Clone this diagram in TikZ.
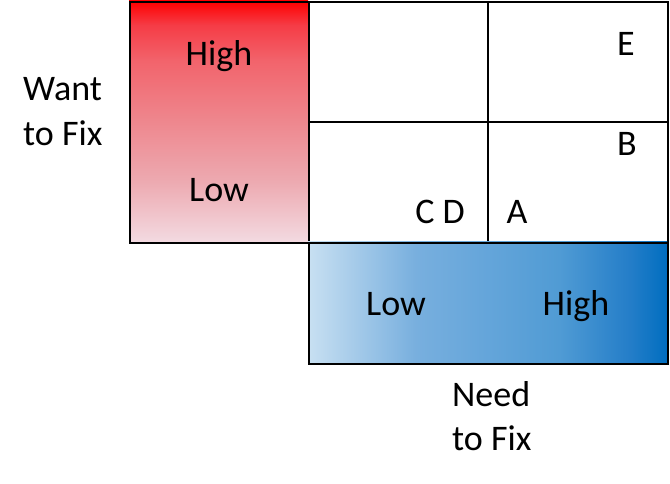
\documentclass[tikz,border=0pt]{standalone}
\usepackage{fontspec}
\setmainfont{Carlito}
\definecolor{rA}{RGB}{255,0,0}
\definecolor{rB}{RGB}{245,60,70}
\definecolor{rC}{RGB}{242,100,108}
\definecolor{rD}{RGB}{238,135,142}
\definecolor{rE}{RGB}{237,170,177}
\definecolor{rF}{RGB}{243,218,225}
\definecolor{bA}{RGB}{200,224,242}
\definecolor{bB}{RGB}{120,175,222}
\definecolor{bC}{RGB}{100,165,218}
\definecolor{bD}{RGB}{80,155,212}
\definecolor{bE}{RGB}{35,125,200}
\definecolor{bF}{RGB}{0,110,192}
\pgfdeclareverticalshading{redgrad}{100bp}{color(0bp)=(rF); color(25bp)=(rF); color(37.5bp)=(rE); color(50bp)=(rD); color(62.5bp)=(rC); color(70bp)=(rB); color(75bp)=(rA); color(100bp)=(rA)}
\pgfdeclarehorizontalshading{bluegrad}{100bp}{color(0bp)=(bA); color(25bp)=(bA); color(40bp)=(bB); color(50bp)=(bC); color(60bp)=(bD); color(70bp)=(bE); color(75bp)=(bF); color(100bp)=(bF)}
\begin{document}
\begin{tikzpicture}[x=1pt,y=-1pt,
  lbl/.style={font=\fontsize{36}{44}\selectfont, inner sep=0pt, anchor=base},
  box/.style={draw=black, line width=2pt}]
\useasboundingbox (0,0) rectangle (670,484);
% red box
\path[shading=redgrad] (129,1) rectangle (308,242);
\node[box, minimum width=179pt, minimum height=241pt, inner sep=0pt, anchor=north west] (red) at (129,1) {};
% grid
\node[box, minimum width=359pt, minimum height=241pt, inner sep=0pt, anchor=north west] (grid) at (308,1) {};
\coordinate (vt) at (488,1);
\coordinate (vb) at (488,242);
\coordinate (hl) at (308,122);
\coordinate (hr) at (667,122);
\draw[line width=2pt] (vt) -- (vb);
\draw[line width=2pt] (hl) -- (hr);
% blue box
\path[shading=bluegrad] (308,242) rectangle (667,363);
\node[box, minimum width=359pt, minimum height=121pt, inner sep=0pt, anchor=north west] (blue) at (308,242) {};
% labels
\node[lbl] (rh) at (219,66) {High};
\node[lbl] (rl) at (219,201) {Low};
\node[lbl] (e) at (626,56) {E};
\node[lbl] (b) at (627,156) {B};
\node[lbl] (cd) at (440,224) {C D};
\node[lbl] (a) at (517,224) {A};
\node[lbl] (bl) at (396,315) {Low};
\node[lbl] (bh) at (576,315) {High};
\node[lbl, anchor=base west] (w1) at (23,101) {Want};
\node[lbl, anchor=base west] (w2) at (23,146) {to Fix};
\node[lbl, anchor=base west] (n1) at (452,406) {Need};
\node[lbl, anchor=base west] (n2) at (452,450) {to Fix};
\end{tikzpicture}
\end{document}
